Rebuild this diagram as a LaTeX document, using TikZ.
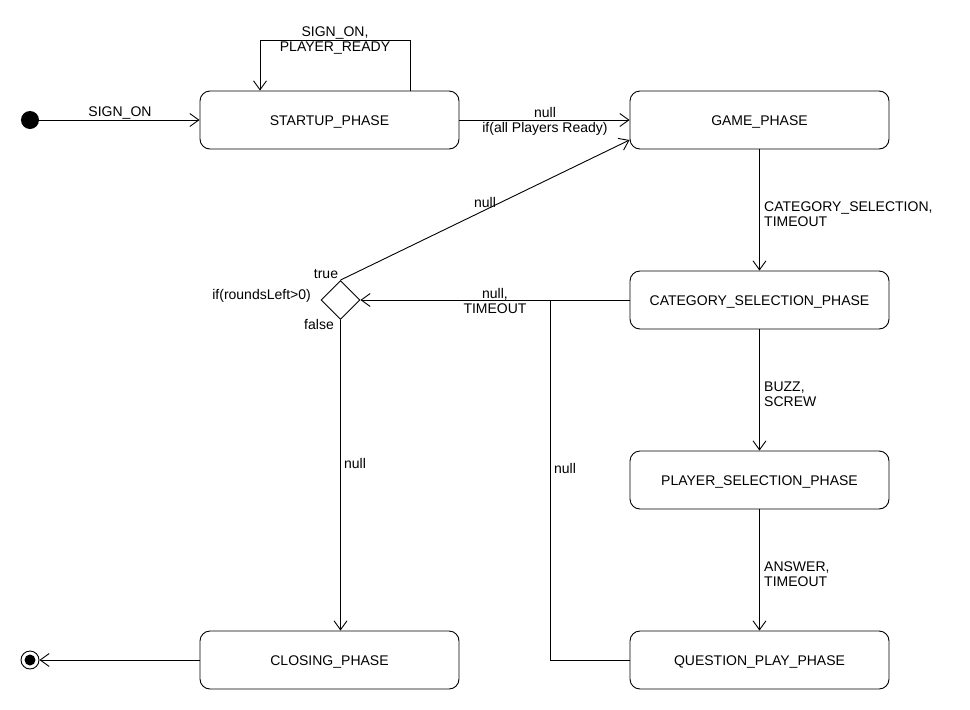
\documentclass[tikz,border=0pt]{standalone}
\usepackage{fontspec}
\setmainfont{Liberation Sans}
\usetikzlibrary{arrows.meta,shapes.geometric}
\begin{document}
\begin{tikzpicture}[x=1pt,y=-1pt,
  txt/.style={font=\fontsize{14}{15}\selectfont, inner sep=0pt},
  state/.style={draw, line width=0.9pt, rounded corners=10pt, minimum width=259pt, minimum height=58pt, inner sep=0pt, text height=10pt, text depth=0pt, font=\fontsize{14}{15}\selectfont},
  lbl/.style={txt, align=center},
  lbll/.style={txt, align=left, anchor=west},
  arr/.style={line width=0.9pt, -{Straight Barb[length=9pt,width=13pt,line width=0.9pt]}},
  ln/.style={line width=0.9pt}]
\useasboundingbox (0,0) rectangle (970,710);
\fill[white] (0,0) rectangle (970,710);

\node[state] (st) at (329.5,120) {STARTUP\_PHASE};
\node[state] (game) at (759.5,120) {GAME\_PHASE};
\node[state] (cat) at (759.5,300) {CATEGORY\_SELECTION\_PHASE};
\node[state] (ps) at (759.5,480) {PLAYER\_SELECTION\_PHASE};
\node[state] (qp) at (759.5,660) {QUESTION\_PLAY\_PHASE};
\node[state] (cl) at (329.5,660) {CLOSING\_PHASE};

\node[circle, fill=black, minimum size=18pt, inner sep=0pt] (start) at (30,120) {};
\node[circle, draw, line width=0.9pt, minimum size=18pt, inner sep=0pt] (end) at (30,660) {};
\node[circle, fill=black, minimum size=11pt, inner sep=0pt] (endin) at (30,660) {};
\node[diamond, draw, line width=0.9pt, minimum width=39pt, minimum height=39pt, inner sep=0pt] (dec) at (340.5,300) {};

\coordinate (loopR) at (410,40);
\coordinate (loopL) at (260,40);
\coordinate (junc) at (550,300);

\draw[arr] (start) -- (st.west);
\draw[arr] (st.north -| loopR) -- (loopR) -- (loopL) -- (st.north -| loopL);
\draw[arr] (st.east) -- (game.west);
\draw[arr] (game.south) -- (cat.north);
\draw[arr] (cat.south) -- (ps.north);
\draw[arr] (ps.south) -- (qp.north);
\draw[arr] (cat.west) -- (dec.east);
\draw[ln] (qp.west) -| (junc);
\draw[arr] (dec.north) -- ([yshift=-20pt]game.west);
\draw[arr] (dec.south) -- (dec.south |- cl.north);
\draw[arr] (cl.west) -- (end.east);

\node[lbl] (l1) at (120,112.5) {SIGN\_ON};
\node[lbl] (l2) at (335,40) {SIGN\_ON,\\PLAYER\_READY};
\node[lbl] (l3) at (545,112.5) {null};
\node[lbl] (l4) at (545,128.5) {if(all Players Ready)};
\node[lbll] (l5) at (764,214) {CATEGORY\_SELECTION,\\TIMEOUT};
\node[lbll] (l6) at (764,394) {BUZZ,\\SCREW};
\node[lbll] (l7) at (764,574) {ANSWER,\\TIMEOUT};
\node[lbl] (l8) at (495,301) {null,\\TIMEOUT};
\node[lbl] (l9) at (565,468.5) {null};
\node[lbl] (l10) at (485,202.5) {null};
\node[lbl] (l11) at (326,274.5) {true};
\node[lbl] (l12) at (319,324.5) {false};
\node[txt, anchor=east] (l13) at (311,295.5) {if(roundsLeft>0)};
\node[lbl] (l14) at (355,463.5) {null};
\end{tikzpicture}
\end{document}
